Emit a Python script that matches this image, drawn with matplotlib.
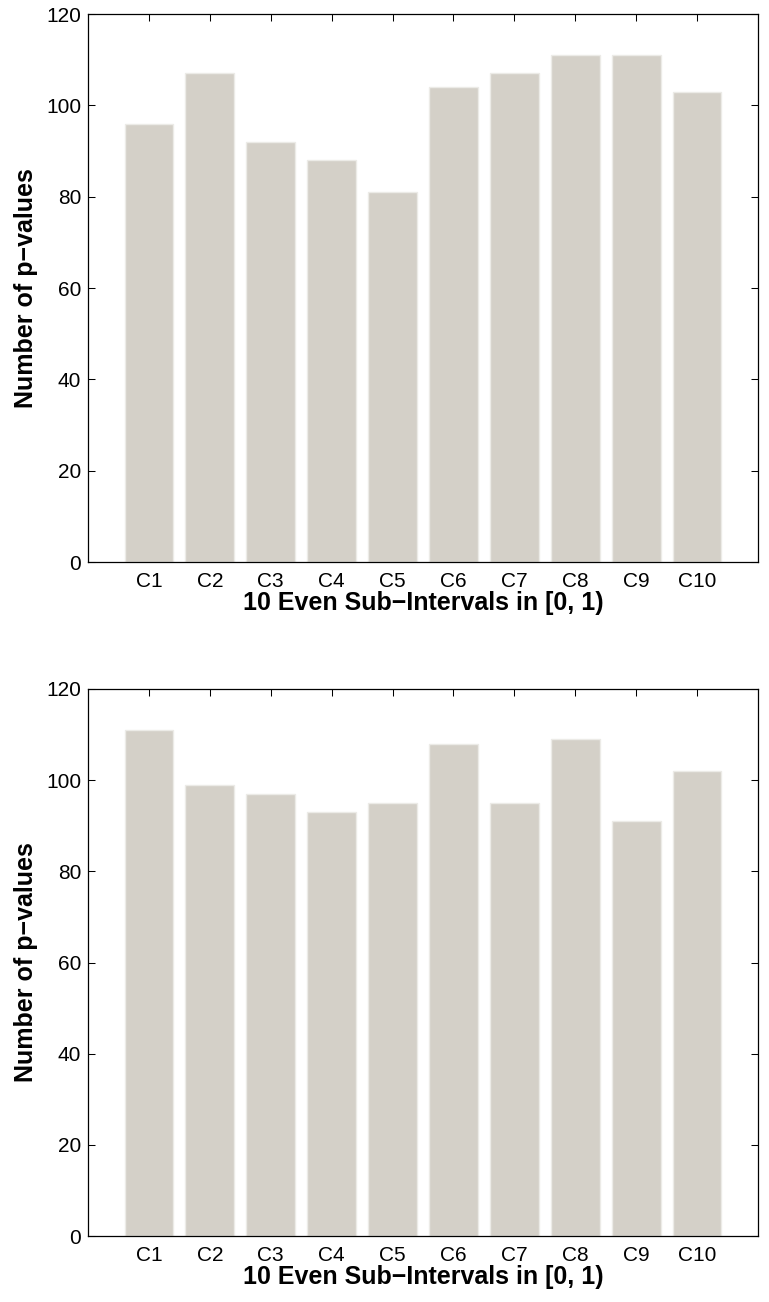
import matplotlib
matplotlib.use("Agg")
import matplotlib.pyplot as plt

categories = ["C1", "C2", "C3", "C4", "C5", "C6", "C7", "C8", "C9", "C10"]
counts_top = [96, 107, 92, 88, 81, 104, 107, 111, 111, 103]
counts_bottom = [111, 99, 97, 93, 95, 108, 95, 109, 91, 102]
y_ticks = [0, 20, 40, 60, 80, 100, 120]
x_label = "10 Even Sub\u2212Intervals in [0, 1)"
y_label = "Number of p\u2212values"

plt.rcParams["font.family"] = ["Liberation Sans", "DejaVu Sans"]

fig = plt.figure(figsize=(7.69, 13.02), dpi=100)
W, H = 769, 1302
rects = [
    (88, 14, 758, 562),
    (88, 689, 758, 1236),
]
for (l, t, r, b), vals in zip(rects, [counts_top, counts_bottom]):
    ax = fig.add_axes([l / W, 1 - b / H, (r - l) / W, (b - t) / H])
    xs = list(range(1, len(categories) + 1))
    ax.bar(xs, vals, width=0.8, color="#d4d0c8", edgecolor="#ecebe7", linewidth=1.0, zorder=2)
    ax.set_xlim(0, 11)
    ax.set_ylim(0, 120)
    ax.set_xticks(xs)
    ax.set_xticklabels(categories)
    ax.set_yticks(y_ticks)
    ax.tick_params(direction="in", length=5, width=0.75, top=True, right=True,
                   labelsize=15, colors="black")
    ax.tick_params(axis="x", pad=7)
    ax.tick_params(axis="y", pad=5)
    for s in ax.spines.values():
        s.set_linewidth(0.9)
        s.set_zorder(3)
    ax.set_xlabel(x_label, fontsize=18, fontweight="bold", labelpad=0)
    ax.set_ylabel(y_label, fontsize=18, fontweight="bold", labelpad=6)

fig.savefig("out.png", dpi=100)
